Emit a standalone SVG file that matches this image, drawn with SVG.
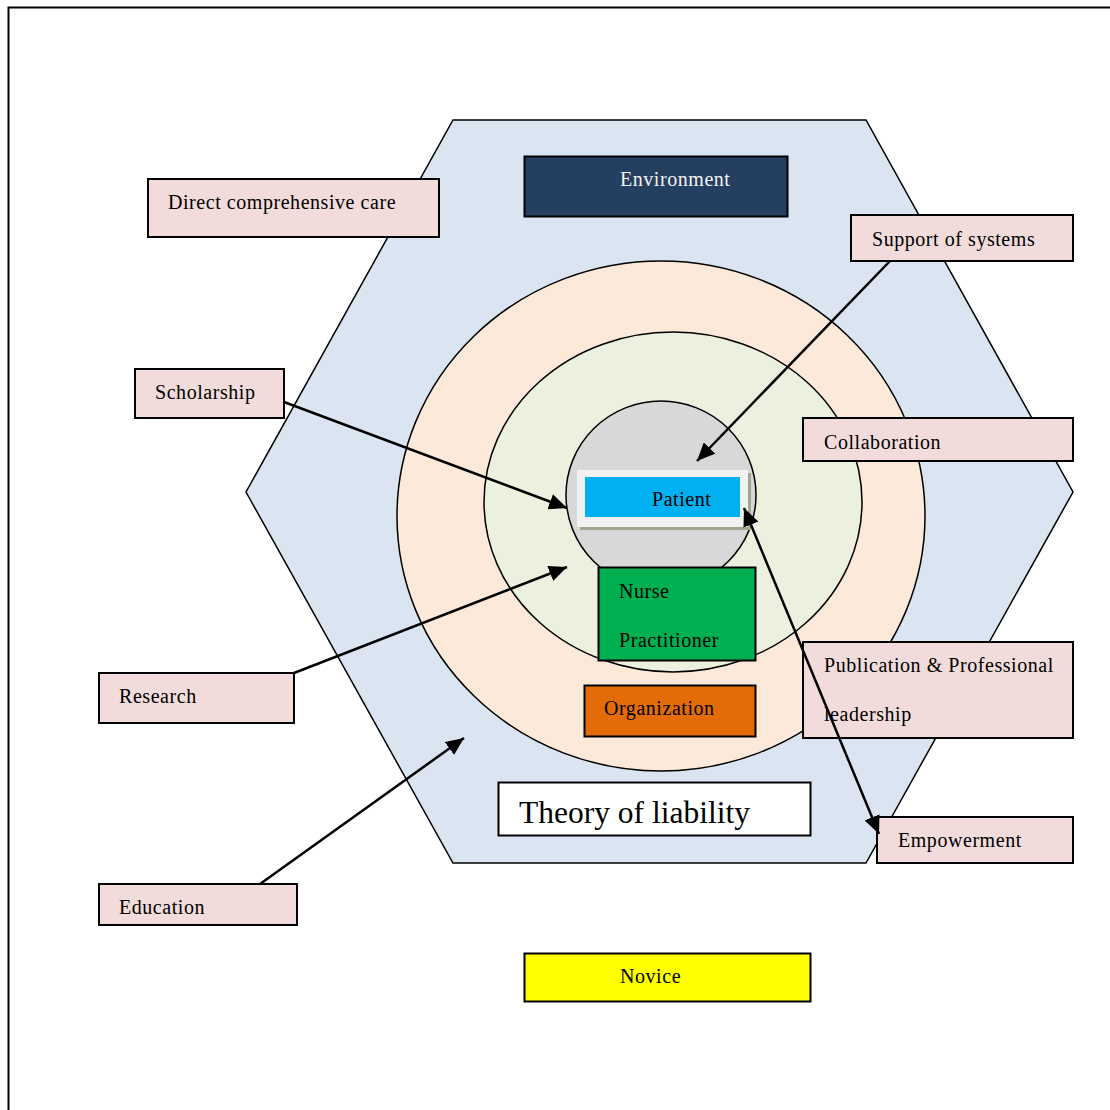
<svg xmlns="http://www.w3.org/2000/svg" width="1110" height="1110" viewBox="0 0 1110 1110">
<style>
text{font-family:"Liberation Serif","Times New Roman",serif;font-size:20px;fill:#000;letter-spacing:0.55px}
.lbl{fill:#F2DCDB;stroke:#000;stroke-width:2}
.ring{stroke:#000;stroke-width:1.5}
.conn{stroke:#000;stroke-width:2.5;fill:none}
</style>
<defs>
<marker id="ah" markerUnits="userSpaceOnUse" markerWidth="20" markerHeight="16" refX="18" refY="8" orient="auto-start-reverse">
<path d="M0,0 L18,8 L0,16 Z" fill="#000"/>
</marker>
</defs>
<rect width="1110" height="1110" fill="#fff"/>
<path d="M8.5,1110 V7.5 H1110" fill="none" stroke="#000" stroke-width="2"/>

<g id="hexagon">
<polygon points="453,120 866,120 1073,492 866,863 453,863 246,492" fill="#DBE5F1" stroke="#000" stroke-width="1.5"/>
</g>
<g id="outer-ring"><ellipse class="ring" cx="661" cy="516" rx="264" ry="255" fill="#FDE9D9"/></g>
<g id="middle-ring"><ellipse class="ring" cx="673" cy="502" rx="189" ry="170" fill="#EBF1DE"/></g>
<g id="inner-ring"><ellipse class="ring" cx="661" cy="495" rx="95" ry="94" fill="#D8D8D8"/></g>

<g id="environment">
<rect x="524.5" y="156.5" width="263" height="60" fill="#243F60" stroke="#000" stroke-width="2"/>
<text x="620" y="186" style="fill:#F2F2F2">Environment</text>
</g>

<g id="patient">
<rect x="580" y="473" width="171" height="57" fill="#A5A58E"/>
<rect x="577" y="470" width="171" height="57" fill="#F2F2F2"/>
<rect x="585" y="477" width="155" height="40" fill="#00B0F0"/>
<text x="652" y="506">Patient</text>
</g>

<g id="nurse-practitioner">
<rect x="598.5" y="567.5" width="157" height="93" fill="#00B050" stroke="#000" stroke-width="2"/>
<text x="619" y="598">Nurse</text>
<text x="619" y="647">Practitioner</text>
</g>

<g id="organization">
<rect x="584.5" y="685.5" width="171" height="51" fill="#E36C09" stroke="#000" stroke-width="2"/>
<text x="604" y="715">Organization</text>
</g>

<g id="theory">
<rect x="498.5" y="782.5" width="312" height="53" fill="#fff" stroke="#000" stroke-width="2"/>
<text x="519" y="823" style="font-size:31.5px;letter-spacing:0">Theory of liability</text>
</g>

<g id="novice">
<rect x="524.5" y="953.5" width="286" height="48" fill="#FFFF00" stroke="#000" stroke-width="2"/>
<text x="620" y="983">Novice</text>
</g>

<g id="direct-care"><rect class="lbl" x="148" y="179" width="291" height="58"/><text x="168" y="209">Direct comprehensive care</text></g>
<g id="support"><rect class="lbl" x="851" y="215" width="222" height="46"/><text x="872" y="246">Support of systems</text></g>
<g id="scholarship"><rect class="lbl" x="135" y="369" width="149" height="49"/><text x="155" y="399">Scholarship</text></g>
<g id="collaboration"><rect class="lbl" x="803" y="418" width="270" height="43"/><text x="824" y="449">Collaboration</text></g>
<g id="publication"><rect class="lbl" x="803" y="642" width="270" height="96"/><text x="824" y="672">Publication &amp; Professional</text><text x="824" y="721">leadership</text></g>
<g id="research"><rect class="lbl" x="99" y="673" width="195" height="50"/><text x="119" y="703">Research</text></g>
<g id="empowerment"><rect class="lbl" x="877" y="817" width="196" height="46"/><text x="898" y="847">Empowerment</text></g>
<g id="education"><rect class="lbl" x="99" y="884" width="198" height="41"/><text x="119" y="914">Education</text></g>

<g id="connectors">
<line class="conn" x1="890" y1="261" x2="697" y2="461" marker-end="url(#ah)"/>
<line class="conn" x1="284" y1="402" x2="567" y2="508" marker-end="url(#ah)"/>
<line class="conn" x1="294" y1="673" x2="567" y2="567" marker-end="url(#ah)"/>
<line class="conn" x1="260" y1="884" x2="464" y2="738" marker-end="url(#ah)"/>
<line class="conn" x1="744" y1="508" x2="879" y2="834" marker-start="url(#ah)" marker-end="url(#ah)"/>
</g>
</svg>
